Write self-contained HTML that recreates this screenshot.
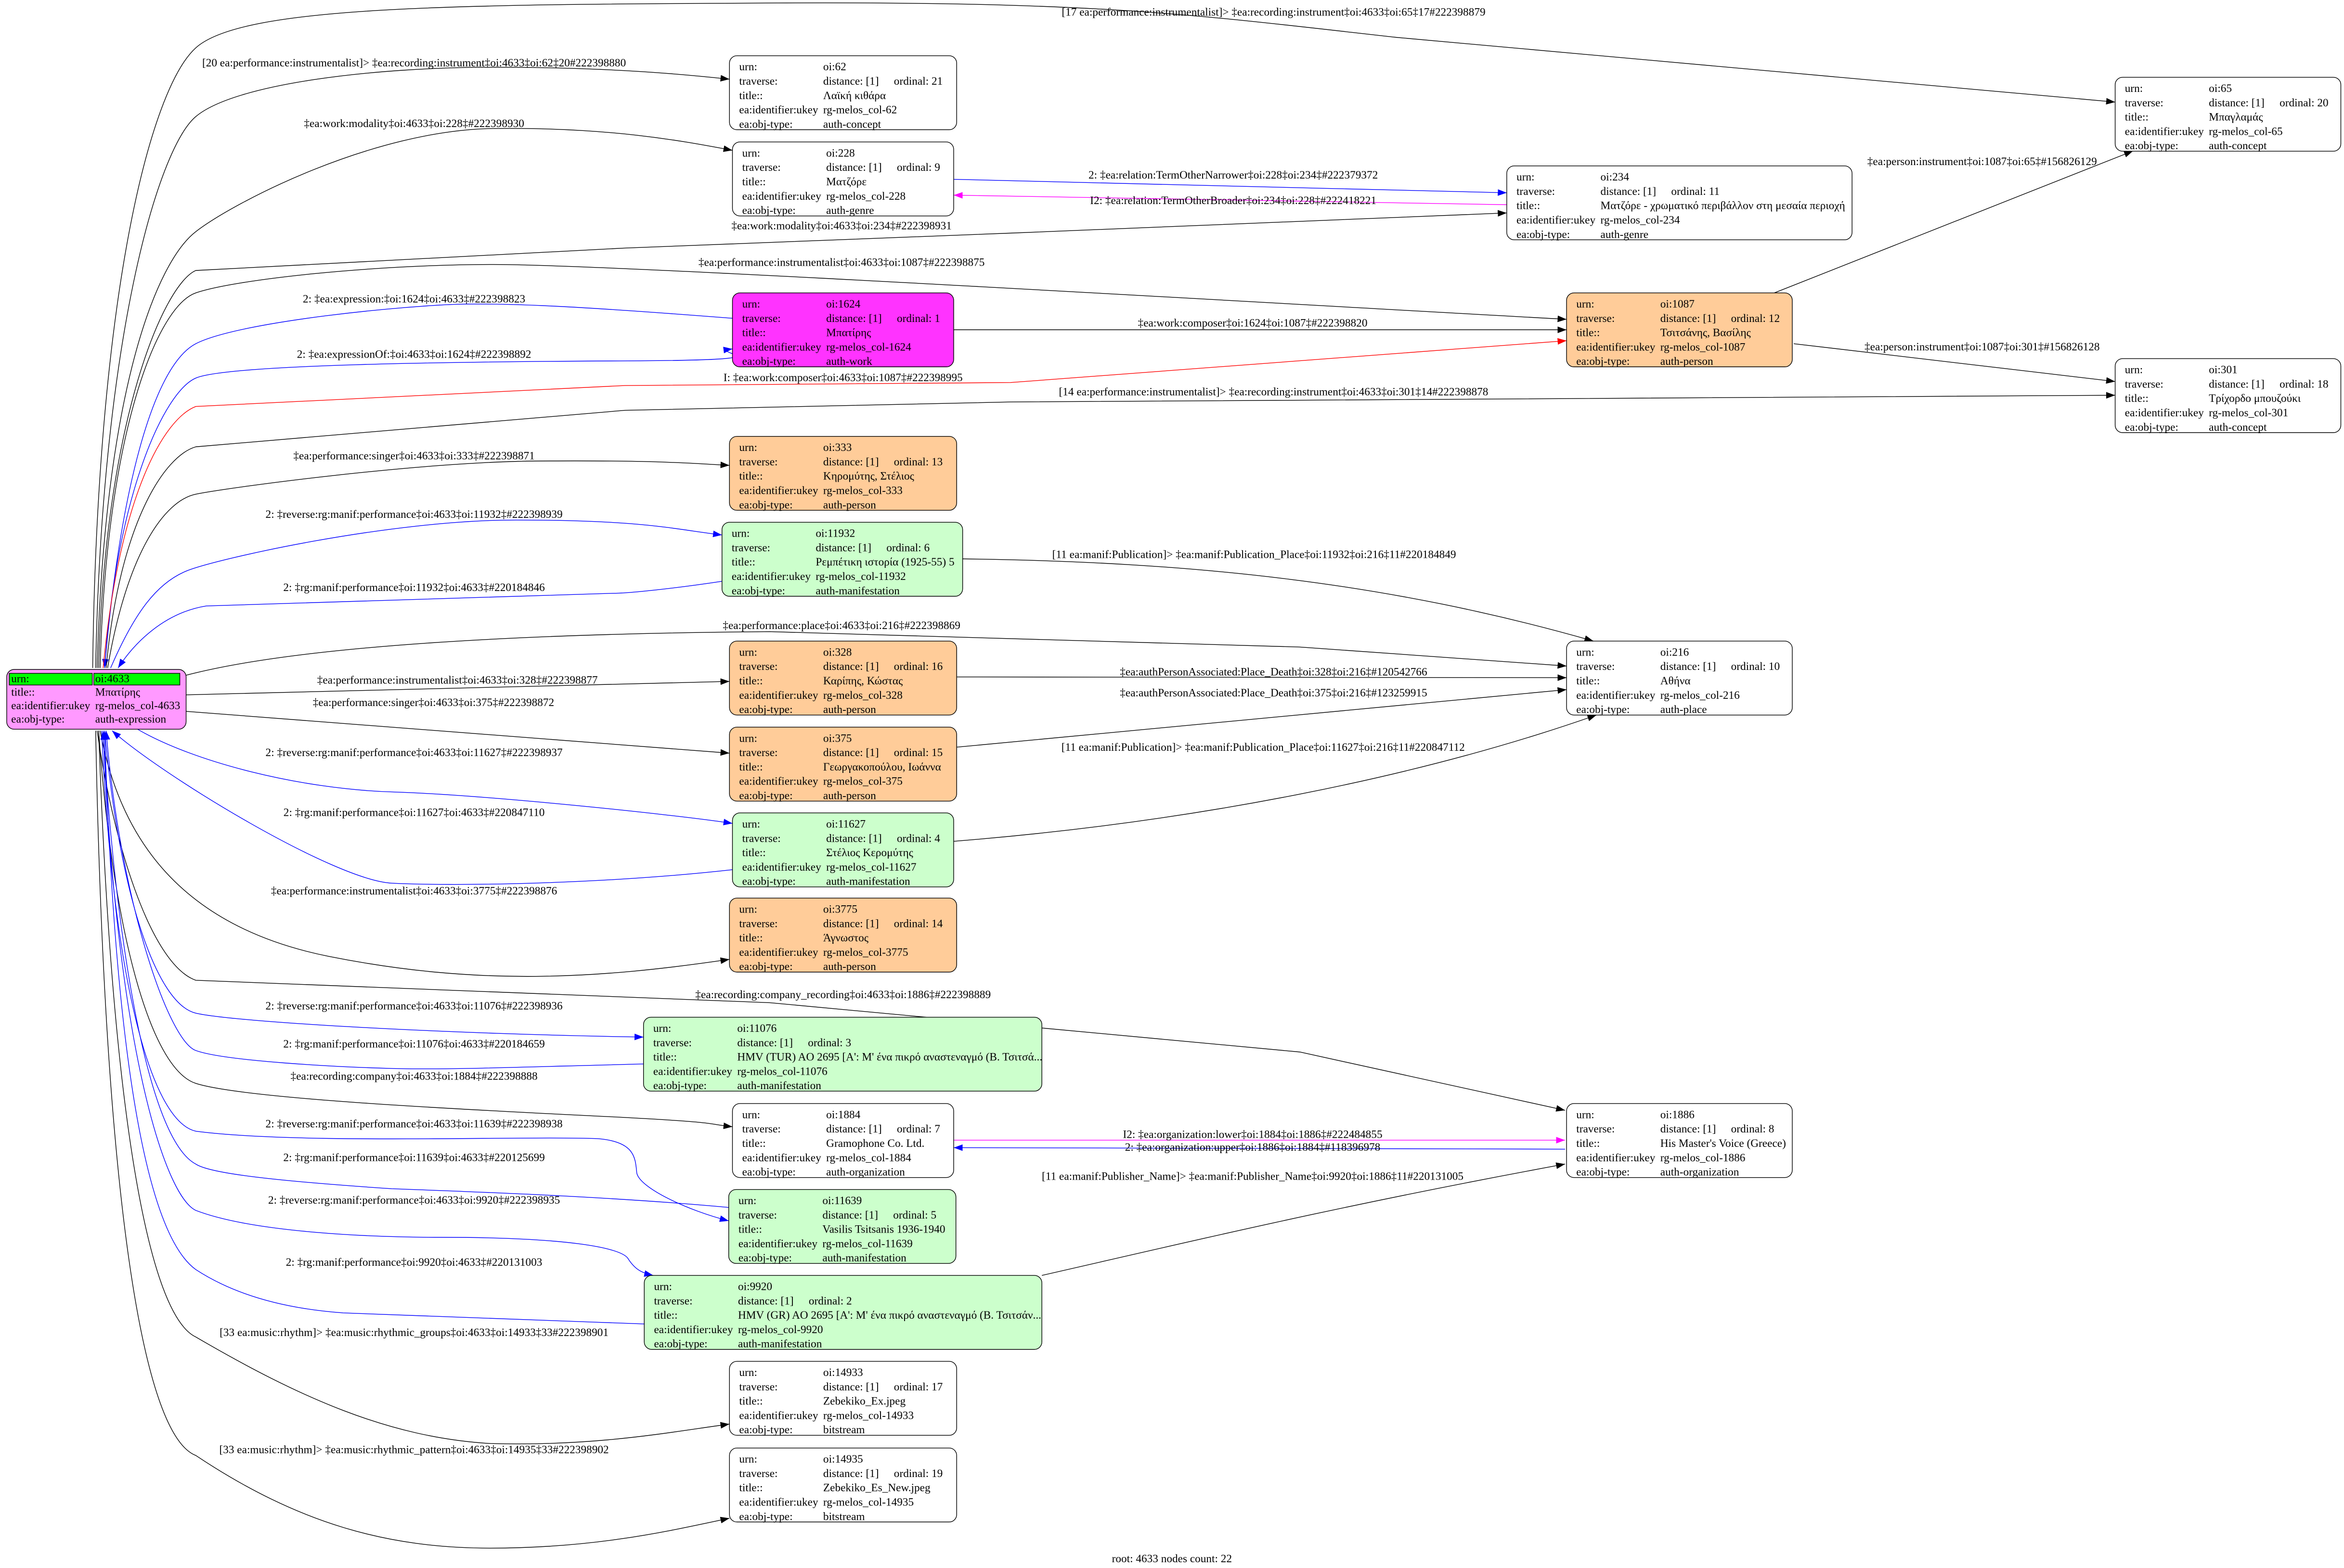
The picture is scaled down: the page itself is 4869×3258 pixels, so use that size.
<!DOCTYPE html>
<html><head><meta charset="utf-8"><style>
html,body{margin:0;padding:0;background:#fff;}
svg{display:block;}
text{font-family:"Liberation Serif","DejaVu Serif",serif;font-size:7.5px;fill:#000;}
.l{text-anchor:middle;}
.e{fill:none;stroke:#000;stroke-width:.45;}
.b{stroke:#00f;}
.r{stroke:#f00;}
.m{stroke:#f0f;}
.n rect{stroke:#000;stroke-width:.45;}
</style></head><body>
<svg width="4869" height="3258" viewBox="0 0 1568.1 1049.3" preserveAspectRatio="none" xmlns="http://www.w3.org/2000/svg">
<defs>
<marker id="ak" markerUnits="userSpaceOnUse" markerWidth="7" markerHeight="5" refX="6" refY="2.2" orient="auto"><path d="M0,0 L6,2.2 L0,4.4z" fill="#000"/></marker>
<marker id="ab" markerUnits="userSpaceOnUse" markerWidth="7" markerHeight="5" refX="6" refY="2.2" orient="auto"><path d="M0,0 L6,2.2 L0,4.4z" fill="#00f"/></marker>
<marker id="ar" markerUnits="userSpaceOnUse" markerWidth="7" markerHeight="5" refX="6" refY="2.2" orient="auto"><path d="M0,0 L6,2.2 L0,4.4z" fill="#f00"/></marker>
<marker id="am" markerUnits="userSpaceOnUse" markerWidth="7" markerHeight="5" refX="6" refY="2.2" orient="auto"><path d="M0,0 L6,2.2 L0,4.4z" fill="#f0f"/></marker>
</defs>
<rect width="1568.1" height="1049.3" fill="#fff"/>

<!-- edges -->
<path class="e" marker-end="url(#ak)" d="M62,447 C65,200 100,60 131,32 S 300,3 520,2 S 800,10 934,25 L1415,68.3"/>
<path class="e" marker-end="url(#ak)" d="M64,447 C68,230 105,100 131,78 S 250,45 330,45 S 460,50 488,53"/>
<path class="e" marker-end="url(#ak)" d="M65,447 C70,260 105,175 131,155 S 250,87 330,86 S 460,95 490,100.6"/>
<path class="e" marker-end="url(#ak)" d="M66,447 C70,280 110,190 131,181 L418,166 L676,156 L1008,142.5"/>
<path class="e" marker-end="url(#ak)" d="M67,447 C71,290 105,205 131,196 S 250,177 330,177 S 800,200 1048,213.7"/>
<path class="e b" marker-end="url(#ab)" d="M490,213 C400,206 350,203 312,203.5 S 160,215 131,230 S 80,330 70,447"/>
<path class="e b" marker-end="url(#ab)" d="M70,447 C78,330 110,262 131,253 S 300,242 420,241.5 S 470,236 490,233.5"/>
<path class="e r" marker-end="url(#ar)" d="M69,447 C80,330 110,280 131,272 L418,258 L676,256 L1048,228"/>
<path class="e" marker-end="url(#ak)" d="M71,447 C80,350 110,305 131,299 L418,274.6 L676,269 L1415,264.5"/>
<path class="e" marker-end="url(#ak)" d="M72,447 C85,370 110,335 131,330.7 S 280,309 361,308.5 S 460,310 488,311.4"/>
<path class="e b" marker-end="url(#ab)" d="M74,447 C90,410 105,390 125,382 S 260,348 345,348 S 450,354 483,358"/>
<path class="e b" marker-end="url(#ab)" d="M483,389 C450,394 420,397 411,397 L138,405.5 C110,410 90,430 79,447"/>
<path class="e" marker-end="url(#ak)" d="M124,452 C200,432 350,424 515,422.7 L869.6,433 L1048,445.7"/>
<path class="e" marker-end="url(#ak)" d="M638,220.7 L1048,220.7"/>
<path class="e" marker-end="url(#ak)" d="M1187,196 L1427,101"/>
<path class="e" marker-end="url(#ak)" d="M1200,230 L1415,255.3"/>
<path class="e b" marker-end="url(#ab)" d="M638,120 L1008,129"/>
<path class="e m" marker-end="url(#am)" d="M1008,137 L638,130.6"/>
<path class="e" marker-end="url(#ak)" d="M644,374 C800,376 930,390 1066,429"/>
<path class="e" marker-end="url(#ak)" d="M640,453 L1048,453.5"/>
<path class="e" marker-end="url(#ak)" d="M640,500 L1048,461.5"/>
<path class="e" marker-end="url(#ak)" d="M638,563 C800,550 950,520 1068,478.5"/>
<path class="e" marker-end="url(#ak)" d="M124,465 L488,456"/>
<path class="e" marker-end="url(#ak)" d="M124,476 L488,504"/>
<path class="e b" marker-end="url(#ab)" d="M92,488 C130,510 200,528 263,530 S 450,545 490,551"/>
<path class="e b" marker-end="url(#ab)" d="M490,582 C400,592 300,593 262,591 S 110,520 75,489"/>
<path class="e" marker-end="url(#ak)" d="M67,489 C80,560 120,620 220,640 S 400,655 488,642"/>
<path class="e" marker-end="url(#ak)" d="M65,489 C75,560 100,645 131,656 L515,671 L869.6,704 L1047,743"/>
<path class="e b" marker-end="url(#ab)" d="M70,489 C80,600 105,672 131,678 S 300,692 430.5,694"/>
<path class="e b" marker-end="url(#ab)" d="M430.5,712 C350,714 300,716 262,715 S 150,710 131,703 S 80,600 71,489"/>
<path class="e" marker-end="url(#ak)" d="M66,489 C75,620 100,715 131,725 S 300,742 394,746.6 S 470,752 490,754"/>
<path class="e b" marker-end="url(#ab)" d="M68,489 C75,650 100,750 131,757 C200,766 350,760 400,762 C425,764 425,775 426,785 C428,795 460,810 487.5,817"/>
<path class="e b" marker-end="url(#ab)" d="M487.5,808 C400,800 300,797 262,795.5 C180,790 140,785 131,779 C95,760 75,600 69,489"/>
<path class="e b" marker-end="url(#ab)" d="M69,489 C78,700 110,800 131,810 C170,825 250,828 295,828 C380,828 415,835 420,842 C425,850 430,852 437,853.5"/>
<path class="e b" marker-end="url(#ab)" d="M431,886 C350,883 260,880 229.6,878.6 C180,875 150,862 131,849.6 C90,820 75,650 70,489"/>
<path class="e" marker-end="url(#ak)" d="M66,489 C75,750 100,880 131,894.7 C200,935 260,962 328,966 C400,968 450,958 488,953"/>
<path class="e" marker-end="url(#ak)" d="M64,489 C70,800 95,960 131,974 C200,1020 260,1036 328,1036 C400,1036 450,1024 488,1016"/>
<path class="e" marker-end="url(#ak)" d="M697,853.5 C800,830 900,806 1047,779"/>
<path class="e m" marker-end="url(#am)" d="M638,763 L1047,763"/>
<path class="e b" marker-end="url(#ab)" d="M1047,769 L638,768"/>

<!-- edge labels -->
<text class="l" x="852" y="10.5">[17 ea:performance:instrumentalist]&gt; ‡ea:recording:instrument‡oi:4633‡oi:65‡17#222398879</text>
<text class="l" x="277" y="44.5">[20 ea:performance:instrumentalist]&gt; ‡ea:recording:instrument‡oi:4633‡oi:62‡20#222398880</text>
<text class="l" x="277" y="85">‡ea:work:modality‡oi:4633‡oi:228‡#222398930</text>
<text class="l" x="563" y="153.5">‡ea:work:modality‡oi:4633‡oi:234‡#222398931</text>
<text class="l" x="563" y="178">‡ea:performance:instrumentalist‡oi:4633‡oi:1087‡#222398875</text>
<text class="l" x="277" y="202.5">2: ‡ea:expression:‡oi:1624‡oi:4633‡#222398823</text>
<text class="l" x="277" y="239.5">2: ‡ea:expressionOf:‡oi:4633‡oi:1624‡#222398892</text>
<text class="l" x="564" y="255">I: ‡ea:work:composer‡oi:4633‡oi:1087‡#222398995</text>
<text class="l" x="852" y="264.5">[14 ea:performance:instrumentalist]&gt; ‡ea:recording:instrument‡oi:4633‡oi:301‡14#222398878</text>
<text class="l" x="838" y="218.5">‡ea:work:composer‡oi:1624‡oi:1087‡#222398820</text>
<text class="l" x="1326" y="110.5">‡ea:person:instrument‡oi:1087‡oi:65‡#156826129</text>
<text class="l" x="1326" y="234.5">‡ea:person:instrument‡oi:1087‡oi:301‡#156826128</text>
<text class="l" x="825" y="119.5">2: ‡ea:relation:TermOtherNarrower‡oi:228‡oi:234‡#222379372</text>
<text class="l" x="825" y="136.5">I2: ‡ea:relation:TermOtherBroader‡oi:234‡oi:228‡#222418221</text>
<text class="l" x="277" y="307.5">‡ea:performance:singer‡oi:4633‡oi:333‡#222398871</text>
<text class="l" x="277" y="346.5">2: ‡reverse:rg:manif:performance‡oi:4633‡oi:11932‡#222398939</text>
<text class="l" x="277" y="395.5">2: ‡rg:manif:performance‡oi:11932‡oi:4633‡#220184846</text>
<text class="l" x="839" y="373.5">[11 ea:manif:Publication]&gt; ‡ea:manif:Publication_Place‡oi:11932‡oi:216‡11#220184849</text>
<text class="l" x="563" y="421">‡ea:performance:place‡oi:4633‡oi:216‡#222398869</text>
<text class="l" x="306" y="457.5">‡ea:performance:instrumentalist‡oi:4633‡oi:328‡#222398877</text>
<text class="l" x="290" y="472.5">‡ea:performance:singer‡oi:4633‡oi:375‡#222398872</text>
<text class="l" x="852" y="452">‡ea:authPersonAssociated:Place_Death‡oi:328‡oi:216‡#120542766</text>
<text class="l" x="852" y="466">‡ea:authPersonAssociated:Place_Death‡oi:375‡oi:216‡#123259915</text>
<text class="l" x="845" y="502.5">[11 ea:manif:Publication]&gt; ‡ea:manif:Publication_Place‡oi:11627‡oi:216‡11#220847112</text>
<text class="l" x="277" y="506">2: ‡reverse:rg:manif:performance‡oi:4633‡oi:11627‡#222398937</text>
<text class="l" x="277" y="546">2: ‡rg:manif:performance‡oi:11627‡oi:4633‡#220847110</text>
<text class="l" x="277" y="598.5">‡ea:performance:instrumentalist‡oi:4633‡oi:3775‡#222398876</text>
<text class="l" x="564" y="668">‡ea:recording:company_recording‡oi:4633‡oi:1886‡#222398889</text>
<text class="l" x="277" y="675.5">2: ‡reverse:rg:manif:performance‡oi:4633‡oi:11076‡#222398936</text>
<text class="l" x="277" y="701">2: ‡rg:manif:performance‡oi:11076‡oi:4633‡#220184659</text>
<text class="l" x="277" y="722.5">‡ea:recording:company‡oi:4633‡oi:1884‡#222398888</text>
<text class="l" x="277" y="754.5">2: ‡reverse:rg:manif:performance‡oi:4633‡oi:11639‡#222398938</text>
<text class="l" x="277" y="777">2: ‡rg:manif:performance‡oi:11639‡oi:4633‡#220125699</text>
<text class="l" x="277" y="805.5">2: ‡reverse:rg:manif:performance‡oi:4633‡oi:9920‡#222398935</text>
<text class="l" x="277" y="847">2: ‡rg:manif:performance‡oi:9920‡oi:4633‡#220131003</text>
<text class="l" x="277" y="894">[33 ea:music:rhythm]&gt; ‡ea:music:rhythmic_groups‡oi:4633‡oi:14933‡33#222398901</text>
<text class="l" x="277" y="972.5">[33 ea:music:rhythm]&gt; ‡ea:music:rhythmic_pattern‡oi:4633‡oi:14935‡33#222398902</text>
<text class="l" x="838" y="761.5">I2: ‡ea:organization:lower‡oi:1884‡oi:1886‡#222484855</text>
<text class="l" x="838" y="770">2: ‡ea:organization:upper‡oi:1886‡oi:1884‡#118396978</text>
<text class="l" x="838" y="789.5">[11 ea:manif:Publisher_Name]&gt; ‡ea:manif:Publisher_Name‡oi:9920‡oi:1886‡11#220131005</text>
<text class="l" x="784" y="1045.5">root: 4633 nodes count: 22</text>

<!-- root node -->
<g class="n" transform="translate(4.5,448)">
<rect width="120" height="40" rx="5" fill="#ff99ff"/>
<rect x="1.7" y="2.6" width="55.5" height="7.8" fill="#00ff00" stroke="none"/>
<rect x="58.3" y="2.6" width="57.5" height="7.8" fill="#00ff00" stroke="none"/>
<text x="3" y="8.6">urn:</text><text x="59.2" y="8.6">oi:4633</text>
<text x="3" y="17.6">title::</text><text x="59.2" y="17.6">Μπατίρης</text>
<text x="3" y="26.6">ea:identifier:ukey</text><text x="59.2" y="26.6">rg-melos_col-4633</text>
<text x="3" y="35.6">ea:obj-type:</text><text x="59.2" y="35.6">auth-expression</text>
</g>

<!-- nodes -->
<g class="n" transform="translate(488,37.3)"><rect width="152" height="49.5" rx="5" fill="#fff"/><text x="6.5" y="9.8">urn:</text><text x="62.7" y="9.8">oi:62</text><text x="6.5" y="19.4">traverse:</text><text x="62.7" y="19.4">distance: [1]</text><text x="110" y="19.4">ordinal: 21</text><text x="6.5" y="29">title::</text><text x="62.7" y="29">Λαϊκή κιθάρα</text><text x="6.5" y="38.6">ea:identifier:ukey</text><text x="62.7" y="38.6">rg-melos_col-62</text><text x="6.5" y="48.2">ea:obj-type:</text><text x="62.7" y="48.2">auth-concept</text></g>

<g class="n" transform="translate(490,95)"><rect width="148" height="49.5" rx="5" fill="#fff"/><text x="6.5" y="9.8">urn:</text><text x="62.7" y="9.8">oi:228</text><text x="6.5" y="19.4">traverse:</text><text x="62.7" y="19.4">distance: [1]</text><text x="110" y="19.4">ordinal: 9</text><text x="6.5" y="29">title::</text><text x="62.7" y="29">Ματζόρε</text><text x="6.5" y="38.6">ea:identifier:ukey</text><text x="62.7" y="38.6">rg-melos_col-228</text><text x="6.5" y="48.2">ea:obj-type:</text><text x="62.7" y="48.2">auth-genre</text></g>

<g class="n" transform="translate(1008,111)"><rect width="231" height="49.5" rx="5" fill="#fff"/><text x="6.5" y="9.8">urn:</text><text x="62.7" y="9.8">oi:234</text><text x="6.5" y="19.4">traverse:</text><text x="62.7" y="19.4">distance: [1]</text><text x="110" y="19.4">ordinal: 11</text><text x="6.5" y="29">title::</text><text x="62.7" y="29">Ματζόρε - χρωματικό περιβάλλον στη μεσαία περιοχή</text><text x="6.5" y="38.6">ea:identifier:ukey</text><text x="62.7" y="38.6">rg-melos_col-234</text><text x="6.5" y="48.2">ea:obj-type:</text><text x="62.7" y="48.2">auth-genre</text></g>

<g class="n" transform="translate(1415,51.7)"><rect width="151" height="49.5" rx="5" fill="#fff"/><text x="6.5" y="9.8">urn:</text><text x="62.7" y="9.8">oi:65</text><text x="6.5" y="19.4">traverse:</text><text x="62.7" y="19.4">distance: [1]</text><text x="110" y="19.4">ordinal: 20</text><text x="6.5" y="29">title::</text><text x="62.7" y="29">Μπαγλαμάς</text><text x="6.5" y="38.6">ea:identifier:ukey</text><text x="62.7" y="38.6">rg-melos_col-65</text><text x="6.5" y="48.2">ea:obj-type:</text><text x="62.7" y="48.2">auth-concept</text></g>

<g class="n" transform="translate(490,196)"><rect width="148" height="49.5" rx="5" fill="#ff33ff"/><text x="6.5" y="9.8">urn:</text><text x="62.7" y="9.8">oi:1624</text><text x="6.5" y="19.4">traverse:</text><text x="62.7" y="19.4">distance: [1]</text><text x="110" y="19.4">ordinal: 1</text><text x="6.5" y="29">title::</text><text x="62.7" y="29">Μπατίρης</text><text x="6.5" y="38.6">ea:identifier:ukey</text><text x="62.7" y="38.6">rg-melos_col-1624</text><text x="6.5" y="48.2">ea:obj-type:</text><text x="62.7" y="48.2">auth-work</text></g>

<g class="n" transform="translate(1048,196)"><rect width="151" height="49.5" rx="5" fill="#ffcc99"/><text x="6.5" y="9.8">urn:</text><text x="62.7" y="9.8">oi:1087</text><text x="6.5" y="19.4">traverse:</text><text x="62.7" y="19.4">distance: [1]</text><text x="110" y="19.4">ordinal: 12</text><text x="6.5" y="29">title::</text><text x="62.7" y="29">Τσιτσάνης, Βασίλης</text><text x="6.5" y="38.6">ea:identifier:ukey</text><text x="62.7" y="38.6">rg-melos_col-1087</text><text x="6.5" y="48.2">ea:obj-type:</text><text x="62.7" y="48.2">auth-person</text></g>

<g class="n" transform="translate(1415,240)"><rect width="151" height="49.5" rx="5" fill="#fff"/><text x="6.5" y="9.8">urn:</text><text x="62.7" y="9.8">oi:301</text><text x="6.5" y="19.4">traverse:</text><text x="62.7" y="19.4">distance: [1]</text><text x="110" y="19.4">ordinal: 18</text><text x="6.5" y="29">title::</text><text x="62.7" y="29">Τρίχορδο μπουζούκι</text><text x="6.5" y="38.6">ea:identifier:ukey</text><text x="62.7" y="38.6">rg-melos_col-301</text><text x="6.5" y="48.2">ea:obj-type:</text><text x="62.7" y="48.2">auth-concept</text></g>

<g class="n" transform="translate(488,292)"><rect width="152" height="49.5" rx="5" fill="#ffcc99"/><text x="6.5" y="9.8">urn:</text><text x="62.7" y="9.8">oi:333</text><text x="6.5" y="19.4">traverse:</text><text x="62.7" y="19.4">distance: [1]</text><text x="110" y="19.4">ordinal: 13</text><text x="6.5" y="29">title::</text><text x="62.7" y="29">Κηρομύτης, Στέλιος</text><text x="6.5" y="38.6">ea:identifier:ukey</text><text x="62.7" y="38.6">rg-melos_col-333</text><text x="6.5" y="48.2">ea:obj-type:</text><text x="62.7" y="48.2">auth-person</text></g>

<g class="n" transform="translate(483,349.5)"><rect width="161" height="49.5" rx="5" fill="#ccffcc"/><text x="6.5" y="9.8">urn:</text><text x="62.7" y="9.8">oi:11932</text><text x="6.5" y="19.4">traverse:</text><text x="62.7" y="19.4">distance: [1]</text><text x="110" y="19.4">ordinal: 6</text><text x="6.5" y="29">title::</text><text x="62.7" y="29">Ρεμπέτικη ιστορία (1925-55) 5</text><text x="6.5" y="38.6">ea:identifier:ukey</text><text x="62.7" y="38.6">rg-melos_col-11932</text><text x="6.5" y="48.2">ea:obj-type:</text><text x="62.7" y="48.2">auth-manifestation</text></g>

<g class="n" transform="translate(1048,429)"><rect width="151" height="49.5" rx="5" fill="#fff"/><text x="6.5" y="9.8">urn:</text><text x="62.7" y="9.8">oi:216</text><text x="6.5" y="19.4">traverse:</text><text x="62.7" y="19.4">distance: [1]</text><text x="110" y="19.4">ordinal: 10</text><text x="6.5" y="29">title::</text><text x="62.7" y="29">Αθήνα</text><text x="6.5" y="38.6">ea:identifier:ukey</text><text x="62.7" y="38.6">rg-melos_col-216</text><text x="6.5" y="48.2">ea:obj-type:</text><text x="62.7" y="48.2">auth-place</text></g>

<g class="n" transform="translate(488,429)"><rect width="152" height="49.5" rx="5" fill="#ffcc99"/><text x="6.5" y="9.8">urn:</text><text x="62.7" y="9.8">oi:328</text><text x="6.5" y="19.4">traverse:</text><text x="62.7" y="19.4">distance: [1]</text><text x="110" y="19.4">ordinal: 16</text><text x="6.5" y="29">title::</text><text x="62.7" y="29">Καρίπης, Κώστας</text><text x="6.5" y="38.6">ea:identifier:ukey</text><text x="62.7" y="38.6">rg-melos_col-328</text><text x="6.5" y="48.2">ea:obj-type:</text><text x="62.7" y="48.2">auth-person</text></g>

<g class="n" transform="translate(488,486.6)"><rect width="152" height="49.5" rx="5" fill="#ffcc99"/><text x="6.5" y="9.8">urn:</text><text x="62.7" y="9.8">oi:375</text><text x="6.5" y="19.4">traverse:</text><text x="62.7" y="19.4">distance: [1]</text><text x="110" y="19.4">ordinal: 15</text><text x="6.5" y="29">title::</text><text x="62.7" y="29">Γεωργακοπούλου, Ιωάννα</text><text x="6.5" y="38.6">ea:identifier:ukey</text><text x="62.7" y="38.6">rg-melos_col-375</text><text x="6.5" y="48.2">ea:obj-type:</text><text x="62.7" y="48.2">auth-person</text></g>

<g class="n" transform="translate(490,544)"><rect width="148" height="49.5" rx="5" fill="#ccffcc"/><text x="6.5" y="9.8">urn:</text><text x="62.7" y="9.8">oi:11627</text><text x="6.5" y="19.4">traverse:</text><text x="62.7" y="19.4">distance: [1]</text><text x="110" y="19.4">ordinal: 4</text><text x="6.5" y="29">title::</text><text x="62.7" y="29">Στέλιος Κερομύτης</text><text x="6.5" y="38.6">ea:identifier:ukey</text><text x="62.7" y="38.6">rg-melos_col-11627</text><text x="6.5" y="48.2">ea:obj-type:</text><text x="62.7" y="48.2">auth-manifestation</text></g>

<g class="n" transform="translate(488,601)"><rect width="152" height="49.5" rx="5" fill="#ffcc99"/><text x="6.5" y="9.8">urn:</text><text x="62.7" y="9.8">oi:3775</text><text x="6.5" y="19.4">traverse:</text><text x="62.7" y="19.4">distance: [1]</text><text x="110" y="19.4">ordinal: 14</text><text x="6.5" y="29">title::</text><text x="62.7" y="29">Άγνωστος</text><text x="6.5" y="38.6">ea:identifier:ukey</text><text x="62.7" y="38.6">rg-melos_col-3775</text><text x="6.5" y="48.2">ea:obj-type:</text><text x="62.7" y="48.2">auth-person</text></g>

<g class="n" transform="translate(430.5,680.7)"><rect width="266.5" height="49.5" rx="5" fill="#ccffcc"/><text x="6.5" y="9.8">urn:</text><text x="62.7" y="9.8">oi:11076</text><text x="6.5" y="19.4">traverse:</text><text x="62.7" y="19.4">distance: [1]</text><text x="110" y="19.4">ordinal: 3</text><text x="6.5" y="29">title::</text><text x="62.7" y="29">HMV (TUR) AO 2695 [A': M' ένα πικρό αναστεναγμό (Β. Τσιτσά...</text><text x="6.5" y="38.6">ea:identifier:ukey</text><text x="62.7" y="38.6">rg-melos_col-11076</text><text x="6.5" y="48.2">ea:obj-type:</text><text x="62.7" y="48.2">auth-manifestation</text></g>

<g class="n" transform="translate(490,738.5)"><rect width="148" height="49.5" rx="5" fill="#fff"/><text x="6.5" y="9.8">urn:</text><text x="62.7" y="9.8">oi:1884</text><text x="6.5" y="19.4">traverse:</text><text x="62.7" y="19.4">distance: [1]</text><text x="110" y="19.4">ordinal: 7</text><text x="6.5" y="29">title::</text><text x="62.7" y="29">Gramophone Co. Ltd.</text><text x="6.5" y="38.6">ea:identifier:ukey</text><text x="62.7" y="38.6">rg-melos_col-1884</text><text x="6.5" y="48.2">ea:obj-type:</text><text x="62.7" y="48.2">auth-organization</text></g>

<g class="n" transform="translate(1048,738.5)"><rect width="151" height="49.5" rx="5" fill="#fff"/><text x="6.5" y="9.8">urn:</text><text x="62.7" y="9.8">oi:1886</text><text x="6.5" y="19.4">traverse:</text><text x="62.7" y="19.4">distance: [1]</text><text x="110" y="19.4">ordinal: 8</text><text x="6.5" y="29">title::</text><text x="62.7" y="29">His Master's Voice (Greece)</text><text x="6.5" y="38.6">ea:identifier:ukey</text><text x="62.7" y="38.6">rg-melos_col-1886</text><text x="6.5" y="48.2">ea:obj-type:</text><text x="62.7" y="48.2">auth-organization</text></g>

<g class="n" transform="translate(487.5,796)"><rect width="152" height="49.5" rx="5" fill="#ccffcc"/><text x="6.5" y="9.8">urn:</text><text x="62.7" y="9.8">oi:11639</text><text x="6.5" y="19.4">traverse:</text><text x="62.7" y="19.4">distance: [1]</text><text x="110" y="19.4">ordinal: 5</text><text x="6.5" y="29">title::</text><text x="62.7" y="29">Vasilis Tsitsanis 1936-1940</text><text x="6.5" y="38.6">ea:identifier:ukey</text><text x="62.7" y="38.6">rg-melos_col-11639</text><text x="6.5" y="48.2">ea:obj-type:</text><text x="62.7" y="48.2">auth-manifestation</text></g>

<g class="n" transform="translate(431,853.5)"><rect width="266" height="49.5" rx="5" fill="#ccffcc"/><text x="6.5" y="9.8">urn:</text><text x="62.7" y="9.8">oi:9920</text><text x="6.5" y="19.4">traverse:</text><text x="62.7" y="19.4">distance: [1]</text><text x="110" y="19.4">ordinal: 2</text><text x="6.5" y="29">title::</text><text x="62.7" y="29">HMV (GR) AO 2695 [A': M' ένα πικρό αναστεναγμό (Β. Τσιτσάν...</text><text x="6.5" y="38.6">ea:identifier:ukey</text><text x="62.7" y="38.6">rg-melos_col-9920</text><text x="6.5" y="48.2">ea:obj-type:</text><text x="62.7" y="48.2">auth-manifestation</text></g>

<g class="n" transform="translate(488,911)"><rect width="152" height="49.5" rx="5" fill="#fff"/><text x="6.5" y="9.8">urn:</text><text x="62.7" y="9.8">oi:14933</text><text x="6.5" y="19.4">traverse:</text><text x="62.7" y="19.4">distance: [1]</text><text x="110" y="19.4">ordinal: 17</text><text x="6.5" y="29">title::</text><text x="62.7" y="29">Zebekiko_Ex.jpeg</text><text x="6.5" y="38.6">ea:identifier:ukey</text><text x="62.7" y="38.6">rg-melos_col-14933</text><text x="6.5" y="48.2">ea:obj-type:</text><text x="62.7" y="48.2">bitstream</text></g>

<g class="n" transform="translate(488,969)"><rect width="152" height="49.5" rx="5" fill="#fff"/><text x="6.5" y="9.8">urn:</text><text x="62.7" y="9.8">oi:14935</text><text x="6.5" y="19.4">traverse:</text><text x="62.7" y="19.4">distance: [1]</text><text x="110" y="19.4">ordinal: 19</text><text x="6.5" y="29">title::</text><text x="62.7" y="29">Zebekiko_Es_New.jpeg</text><text x="6.5" y="38.6">ea:identifier:ukey</text><text x="62.7" y="38.6">rg-melos_col-14935</text><text x="6.5" y="48.2">ea:obj-type:</text><text x="62.7" y="48.2">bitstream</text></g>
</svg>
</body></html>
